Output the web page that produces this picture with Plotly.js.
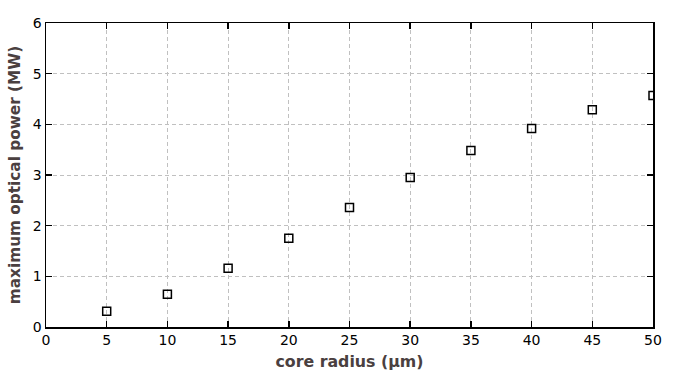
<!DOCTYPE html>
<html>
<head>
<meta charset="utf-8">
<script src="https://cdn.plot.ly/plotly-3.0.1.min.js"></script>
<style>html,body{margin:0;padding:0;background:#fff;}</style>
</head>
<body>
<div id="chart" style="width:695px;height:372px;"></div>
<script>
const coreRadius = [5, 10, 15, 20, 25, 30, 35, 40, 45, 50];
const maxPower = [0.31, 0.645, 1.16, 1.75, 2.36, 2.95, 3.485, 3.92, 4.29, 4.57];
const xTitle = 'core radius (µm)';
const yTitle = 'maximum optical power (MW)';

const font = 'Verdana, "DejaVu Sans", sans-serif';
const titleColor = '#4a4040';
const axisCommon = {
  showline: true, linecolor: '#000', linewidth: 1.5, mirror: 'ticks',
  ticks: 'inside', ticklen: 6, tickwidth: 1.5, tickcolor: '#000',
  showgrid: true, gridcolor: '#c0c0c0', griddash: '4px,3px', gridwidth: 1,
  zeroline: false,
  tickfont: {family: font, size: 14, color: '#000'}
};
Plotly.newPlot('chart', [{
  x: coreRadius, y: maxPower, type: 'scatter', mode: 'markers',
  marker: {symbol: 'square-open', size: 8, color: '#000', line: {width: 1.5, color: '#000'}},
  hoverinfo: 'skip'
}], {
  width: 695, height: 372,
  margin: {l: 46, r: 42, t: 23, b: 45},
  paper_bgcolor: '#fff', plot_bgcolor: '#fff',
  showlegend: false,
  xaxis: Object.assign({}, axisCommon, {
    range: [0, 50], dtick: 5, tick0: 0,
    title: {text: xTitle, font: {family: font, size: 15.8, color: titleColor, weight: 'bold'}, standoff: 8}
  }),
  yaxis: Object.assign({}, axisCommon, {
    range: [0, 6], dtick: 1, tick0: 0,
    title: {text: yTitle, font: {family: font, size: 15.3, color: titleColor, weight: 'bold'}, standoff: 8}
  })
}, {displayModeBar: false, staticPlot: true});
</script>
</body>
</html>
